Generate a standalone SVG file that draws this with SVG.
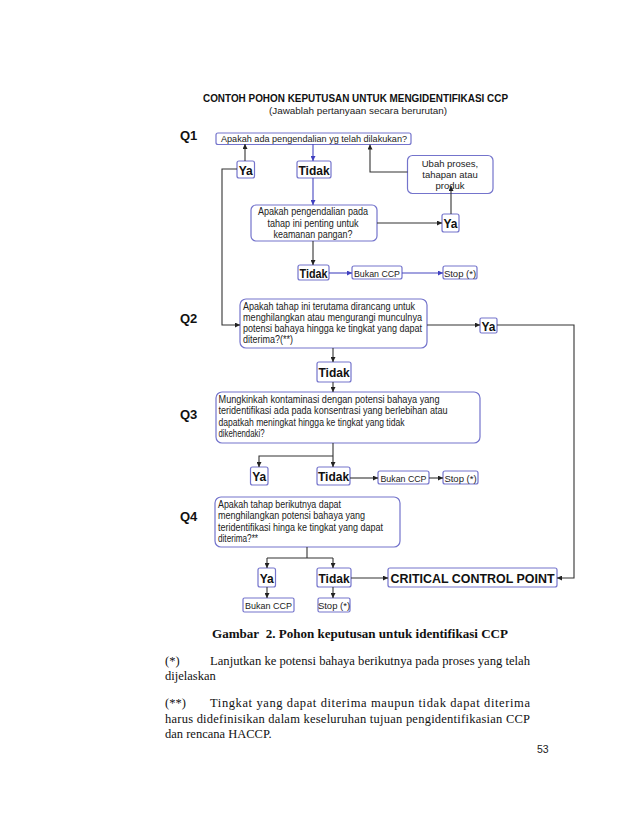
<svg xmlns="http://www.w3.org/2000/svg" width="638" height="826" viewBox="0 0 638 826">
<defs>
<style>
.bx{fill:#fff;stroke:#7474cc;stroke-width:1.2}
.t{font-family:"Liberation Sans",Arial,sans-serif;font-size:9.5px;fill:#222}
.t2{font-family:"Liberation Sans",Arial,sans-serif;font-size:10px;fill:#222}
.b{font-family:"Liberation Sans",Arial,sans-serif;font-weight:bold;font-size:12px;fill:#111}
.q{font-family:"Liberation Sans",Arial,sans-serif;font-weight:bold;font-size:13px;fill:#111}
.k{fill:none;stroke:#333;stroke-width:1.1;marker-end:url(#ak)}
.kn{fill:none;stroke:#333;stroke-width:1.1}
.u{fill:none;stroke:#4646c0;stroke-width:1.1;marker-end:url(#au)}
.s{font-family:"Liberation Serif","Times New Roman",serif;font-size:12.5px;fill:#111}
</style>
<marker id="ak" viewBox="0 0 10 10" refX="10" refY="5" markerWidth="5" markerHeight="5" orient="auto" markerUnits="userSpaceOnUse"><path d="M0,0L10,5L0,10z" fill="#222"/></marker>
<marker id="au" viewBox="0 0 10 10" refX="10" refY="5" markerWidth="5" markerHeight="5" orient="auto" markerUnits="userSpaceOnUse"><path d="M0,0L10,5L0,10z" fill="#4040c0"/></marker>
</defs>
<rect width="638" height="826" fill="#fff"/>

<g id="title">
<text x="355.5" y="102" text-anchor="middle" font-family="'Liberation Sans',Arial,sans-serif" font-weight="bold" font-size="10" fill="#111" textLength="305" lengthAdjust="spacingAndGlyphs">CONTOH POHON KEPUTUSAN UNTUK MENGIDENTIFIKASI CCP</text>
<text x="358" y="114" text-anchor="middle" class="t" font-size="10" textLength="178" lengthAdjust="spacingAndGlyphs">(Jawablah pertanyaan secara berurutan)</text>
</g>

<g id="labels">
<text x="180" y="140" class="q">Q1</text>
<text x="180" y="323" class="q">Q2</text>
<text x="180" y="419" class="q">Q3</text>
<text x="180" y="521" class="q">Q4</text>
</g>

<g id="q1">
<rect class="bx" x="216" y="133" width="195" height="11.5" rx="2"/>
<text class="t" x="221" y="142" textLength="186" lengthAdjust="spacingAndGlyphs">Apakah ada pengendalian yg telah dilakukan?</text>
</g>
<g id="q1-ya">
<rect class="bx" x="237" y="161" width="17.5" height="17" rx="2"/>
<text class="b" x="245.7" y="174.5" text-anchor="middle">Ya</text>
</g>
<g id="q1-tidak">
<rect class="bx" x="297" y="161" width="34" height="17" rx="2"/>
<text class="b" x="314" y="174.5" text-anchor="middle">Tidak</text>
</g>
<g id="ubah">
<rect class="bx" x="407.5" y="155.5" width="85.5" height="38" rx="5"/>
<text class="t" x="450" y="167" text-anchor="middle">Ubah proses,</text>
<text class="t" x="450" y="178" text-anchor="middle">tahapan atau</text>
<text class="t" x="450" y="189" text-anchor="middle">produk</text>
</g>
<g id="q1b">
<rect class="bx" x="251" y="205" width="126" height="36" rx="5"/>
<text class="t2" x="313" y="215" text-anchor="middle" textLength="110" lengthAdjust="spacingAndGlyphs">Apakah pengendalian pada</text>
<text class="t2" x="313" y="226.5" text-anchor="middle" textLength="91" lengthAdjust="spacingAndGlyphs">tahap ini penting untuk</text>
<text class="t2" x="313" y="238" text-anchor="middle" textLength="79" lengthAdjust="spacingAndGlyphs">keamanan pangan?</text>
</g>
<g id="q1b-ya">
<rect class="bx" x="442" y="214" width="17" height="18" rx="2"/>
<text class="b" x="450.5" y="228" text-anchor="middle">Ya</text>
</g>
<g id="q1b-tidak">
<rect class="bx" x="298" y="265" width="31" height="15" rx="2"/>
<text class="b" x="313.5" y="277.5" text-anchor="middle" textLength="28" lengthAdjust="spacingAndGlyphs">Tidak</text>
</g>
<g id="q1b-bukan">
<rect class="bx" x="352" y="266" width="50" height="13" rx="2"/>
<text class="t" x="377" y="276.5" text-anchor="middle" textLength="46" lengthAdjust="spacingAndGlyphs">Bukan CCP</text>
</g>
<g id="q1b-stop">
<rect class="bx" x="443" y="266" width="34" height="13" rx="2"/>
<text class="t" x="460" y="276.5" text-anchor="middle">Stop (*)</text>
</g>

<g id="q2">
<rect class="bx" x="240" y="299" width="187" height="49" rx="6"/>
<text class="t2" x="243" y="310" textLength="172" lengthAdjust="spacingAndGlyphs">Apakah tahap ini terutama dirancang untuk</text>
<text class="t2" x="243" y="321" textLength="179" lengthAdjust="spacingAndGlyphs">menghilangkan atau mengurangi munculnya</text>
<text class="t2" x="243" y="332" textLength="179" lengthAdjust="spacingAndGlyphs">potensi bahaya hingga ke tingkat yang dapat</text>
<text class="t2" x="243" y="343" textLength="50" lengthAdjust="spacingAndGlyphs">diterima?(**)</text>
</g>
<g id="q2-ya">
<rect class="bx" x="480" y="318" width="17" height="15" rx="1.5"/>
<text class="b" x="488.5" y="330.5" text-anchor="middle">Ya</text>
</g>
<g id="q2-tidak">
<rect class="bx" x="317" y="362" width="34" height="20" rx="2"/>
<text class="b" x="334" y="377" text-anchor="middle">Tidak</text>
</g>

<g id="q3">
<rect class="bx" x="216" y="392" width="264" height="51" rx="6"/>
<text class="t2" x="218.5" y="402.5" textLength="221" lengthAdjust="spacingAndGlyphs">Mungkinkah kontaminasi dengan potensi bahaya yang</text>
<text class="t2" x="218.5" y="414" textLength="229" lengthAdjust="spacingAndGlyphs">teridentifikasi ada pada konsentrasi yang berlebihan atau</text>
<text class="t2" x="218.5" y="425.5" textLength="186" lengthAdjust="spacingAndGlyphs">dapatkah meningkat hingga ke tingkat yang tidak</text>
<text class="t2" x="218.5" y="437" textLength="46" lengthAdjust="spacingAndGlyphs">dikehendaki?</text>
</g>
<g id="q3-ya">
<rect class="bx" x="250.5" y="467" width="17.5" height="18" rx="2"/>
<text class="b" x="259.3" y="481" text-anchor="middle">Ya</text>
</g>
<g id="q3-tidak">
<rect class="bx" x="317" y="467" width="33" height="18" rx="2"/>
<text class="b" x="333.5" y="481" text-anchor="middle">Tidak</text>
</g>
<g id="q3-bukan">
<rect class="bx" x="378" y="471" width="51" height="13" rx="2"/>
<text class="t" x="403.5" y="481.5" text-anchor="middle" textLength="46" lengthAdjust="spacingAndGlyphs">Bukan CCP</text>
</g>
<g id="q3-stop">
<rect class="bx" x="443" y="471" width="35" height="13" rx="2"/>
<text class="t" x="460.5" y="481.5" text-anchor="middle">Stop (*)</text>
</g>

<g id="q4">
<rect class="bx" x="215" y="497" width="185" height="50" rx="6"/>
<text class="t2" x="218" y="507.5" textLength="123" lengthAdjust="spacingAndGlyphs">Apakah tahap berikutnya dapat</text>
<text class="t2" x="218" y="519" textLength="147" lengthAdjust="spacingAndGlyphs">menghilangkan potensi bahaya yang</text>
<text class="t2" x="218" y="530.5" textLength="165" lengthAdjust="spacingAndGlyphs">teridentifikasi hinga ke tingkat yang dapat</text>
<text class="t2" x="218" y="542" textLength="40" lengthAdjust="spacingAndGlyphs">diterima?**</text>
</g>
<g id="q4-ya">
<rect class="bx" x="258" y="568" width="17.5" height="19" rx="2"/>
<text class="b" x="266.8" y="582.5" text-anchor="middle">Ya</text>
</g>
<g id="q4-tidak">
<rect class="bx" x="317" y="568" width="34" height="19" rx="2"/>
<text class="b" x="334" y="582.5" text-anchor="middle">Tidak</text>
</g>
<g id="ccp">
<rect class="bx" x="388" y="568" width="169" height="19" rx="2"/>
<text class="b" x="472.5" y="582.5" text-anchor="middle" font-size="12.5" textLength="164" lengthAdjust="spacingAndGlyphs">CRITICAL CONTROL POINT</text>
</g>
<g id="q4-bukan">
<rect class="bx" x="243" y="598" width="51" height="14" rx="1.5"/>
<text class="t" x="268.5" y="608.5" text-anchor="middle" textLength="47" lengthAdjust="spacingAndGlyphs">Bukan CCP</text>
</g>
<g id="q4-stop">
<rect class="bx" x="318" y="598" width="32" height="14" rx="1.5"/>
<text class="t" x="334" y="608.5" text-anchor="middle">Stop (*)</text>
</g>

<g id="connectors">
<path class="k" d="M245,161V144"/>
<path class="u" d="M313,144V161"/>
<path class="u" d="M313,178V205"/>
<path class="k" d="M407.5,172H370V144.5"/>
<path class="k" d="M237,169H222V325H240"/>
<path class="k" d="M377,223H442"/>
<path class="k" d="M451,214V186"/>
<path class="k" d="M313,241V265"/>
<path class="u" d="M329,273H352"/>
<path class="u" d="M402,273H443"/>
<path class="k" d="M427,325H480"/>
<path class="k" d="M497,325H574V578H557"/>
<path class="k" d="M333,348V362"/>
<path class="k" d="M333,382V392"/>
<path class="k" d="M333,443V467"/>
<path class="k" d="M333,456H259V467"/>
<path class="k" d="M350,478H378"/>
<path class="k" d="M429,478H443"/>
<path class="kn" d="M307,547V558M267,558H333"/>
<path class="k" d="M267,558V568"/>
<path class="k" d="M333,558V568"/>
<path class="k" d="M351,578H388"/>
<path class="k" d="M267,587V598"/>
<path class="k" d="M333,587V598"/>
</g>

<g id="caption">
<text x="212" y="638" font-family="'Liberation Serif','Times New Roman',serif" font-weight="bold" font-size="12.5" fill="#111" textLength="296" lengthAdjust="spacingAndGlyphs">Gambar&#160; 2. Pohon keputusan untuk identifikasi CCP</text>
<text class="s" x="165" y="665">(*)</text>
<text class="s" x="210" y="665" textLength="320" lengthAdjust="spacingAndGlyphs">Lanjutkan ke potensi bahaya berikutnya pada proses yang telah</text>
<text class="s" x="165" y="680">dijelaskan</text>
<text class="s" x="165" y="707">(**)</text>
<text class="s" x="210" y="707" textLength="320" lengthAdjust="spacing">Tingkat yang dapat diterima maupun tidak dapat diterima</text>
<text class="s" x="165" y="723" textLength="365" lengthAdjust="spacing">harus didefinisikan dalam keseluruhan tujuan pengidentifikasian CCP</text>
<text class="s" x="165" y="738">dan rencana HACCP.</text>
<text x="537" y="753" font-family="'Liberation Sans',Arial,sans-serif" font-size="10.5" fill="#222">53</text>
</g>
</svg>
